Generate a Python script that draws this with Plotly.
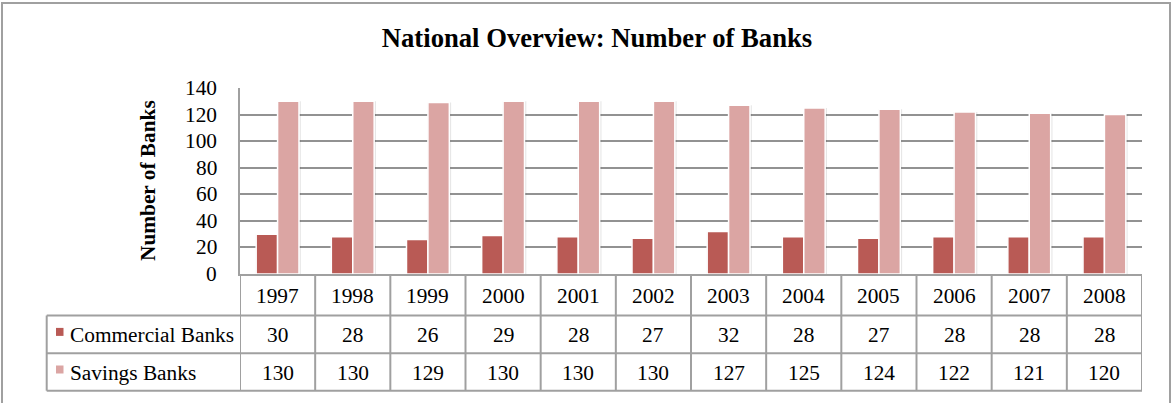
import plotly.graph_objects as go

# Data
years = ["1997", "1998", "1999", "2000", "2001", "2002",
         "2003", "2004", "2005", "2006", "2007", "2008"]
commercial_banks = [30, 28, 26, 29, 28, 27, 32, 28, 27, 28, 28, 28]
savings_banks = [130, 130, 129, 130, 130, 130, 127, 125, 124, 122, 121, 120]
series_names = ["Commercial Banks", "Savings Banks"]
y_ticks = [0, 20, 40, 60, 80, 100, 120, 140]

COL_COMMERCIAL = "#B95A55"
COL_SAVINGS = "#DBA5A3"
GRID = "#929292"
BORDER = "#A0A0A0"
FONT = "Liberation Serif, Times New Roman, serif"
FS = 21.33       # 16pt
FS_TITLE = 26.67  # 20pt

W, H = 1171, 403
L, R, T, B = 240, 1142, 88, 274  # plot area in pixels


def px(xp):
    return (xp - L) / (R - L)


def py(yp):
    return (B - yp) / (B - T)


fig = go.Figure()

BAR_W = 0.285
# soft shadows behind the bars
for vals, off in [(commercial_banks, -BAR_W), (savings_banks, 0.0)]:
    fig.add_trace(go.Bar(
        x=years, y=vals, offset=off - 0.006, width=BAR_W + 0.03,
        marker=dict(color="rgba(0,0,0,0.10)", line=dict(width=0)),
        hoverinfo="skip", showlegend=False,
    ))

for name, vals, col, off in [
    (series_names[0], commercial_banks, COL_COMMERCIAL, -BAR_W),
    (series_names[1], savings_banks, COL_SAVINGS, 0.0),
]:
    fig.add_trace(go.Bar(
        x=years, y=vals, name=name, offset=off, width=BAR_W,
        marker=dict(color=col, line=dict(color="white", width=1.5)),
        showlegend=False,
    ))

fig.update_layout(
    width=W, height=H,
    margin=dict(l=L, r=W - R, t=T, b=H - B),
    barmode="overlay",
    paper_bgcolor="white", plot_bgcolor="white",
    font=dict(family=FONT, size=FS, color="black"),
    title=dict(text="<b>National Overview: Number of Banks</b>",
               x=597 / W, xanchor="center", y=1 - 38 / H, yanchor="middle",
               font=dict(size=FS_TITLE, family=FONT)),
    showlegend=False,
)

fig.update_xaxes(
    type="category", range=[-0.5, len(years) - 0.5],
    showticklabels=False, ticks="", showgrid=False,
    showline=True, linecolor=BORDER, linewidth=2, zeroline=False,
)
fig.update_yaxes(
    range=[0, 140], tickvals=y_ticks, ticks="", showticklabels=False,
    showgrid=True, gridcolor=GRID, gridwidth=1.5,
    showline=True, linecolor=BORDER, linewidth=2, zeroline=False,
)

# y tick labels, right-aligned a little away from the axis
for v in y_ticks:
    fig.add_annotation(text=str(v), xref="paper", yref="y", x=px(219), y=v,
                       xanchor="right", yanchor="middle", showarrow=False,
                       font=dict(size=FS, family=FONT))

# y-axis title
fig.add_annotation(
    text="<b>Number of Banks</b>", textangle=-90,
    xref="paper", yref="paper", x=px(148), y=py(181),
    xanchor="center", yanchor="middle", showarrow=False,
    font=dict(size=FS, family=FONT),
)

# data table below the axis
row_lines = [274, 315.5, 353.3, 390.7]
line_style = dict(color=BORDER, width=2)
for yl in row_lines[1:]:
    fig.add_shape(type="line", xref="paper", yref="paper",
                  x0=px(46.7), x1=1, y0=py(yl), y1=py(yl), line=line_style,
                  layer="above")
fig.add_shape(type="line", xref="paper", yref="paper",
              x0=px(46.7), x1=px(46.7), y0=py(315.5), y1=py(390.7),
              line=line_style)
for k in range(len(years) + 1):
    fig.add_shape(type="line", xref="x", yref="paper",
                  x0=k - 0.5, x1=k - 0.5, y0=py(274), y1=py(390.7),
                  line=line_style)

row_centers = [(row_lines[i] + row_lines[i + 1]) / 2 for i in range(3)]
for j, yr in enumerate(years):
    for r, txt in enumerate([yr, str(commercial_banks[j]), str(savings_banks[j])]):
        fig.add_annotation(text=txt, xref="x", yref="paper", x=j,
                           y=py(row_centers[r] + 1), xanchor="center",
                           yanchor="middle", showarrow=False,
                           font=dict(size=FS, family=FONT))

for r, (name, col) in enumerate([(series_names[0], COL_COMMERCIAL),
                                 (series_names[1], COL_SAVINGS)]):
    yc = row_centers[r + 1]
    fig.add_shape(type="rect", xref="paper", yref="paper",
                  x0=px(56), x1=px(63.5), y0=py(yc - 6.5), y1=py(yc + 1.5),
                  fillcolor=col, line=dict(width=0))
    fig.add_annotation(text=name, xref="paper", yref="paper", x=px(68),
                       y=py(yc + 1), xanchor="left", yanchor="middle",
                       showarrow=False, font=dict(size=FS, family=FONT))

# chart frame
fig.add_shape(type="rect", xref="paper", yref="paper",
              x0=px(2), x1=px(1170), y0=py(3), y1=py(420),
              line=dict(color=BORDER, width=2), fillcolor="rgba(0,0,0,0)")

fig.write_html("out.html")
